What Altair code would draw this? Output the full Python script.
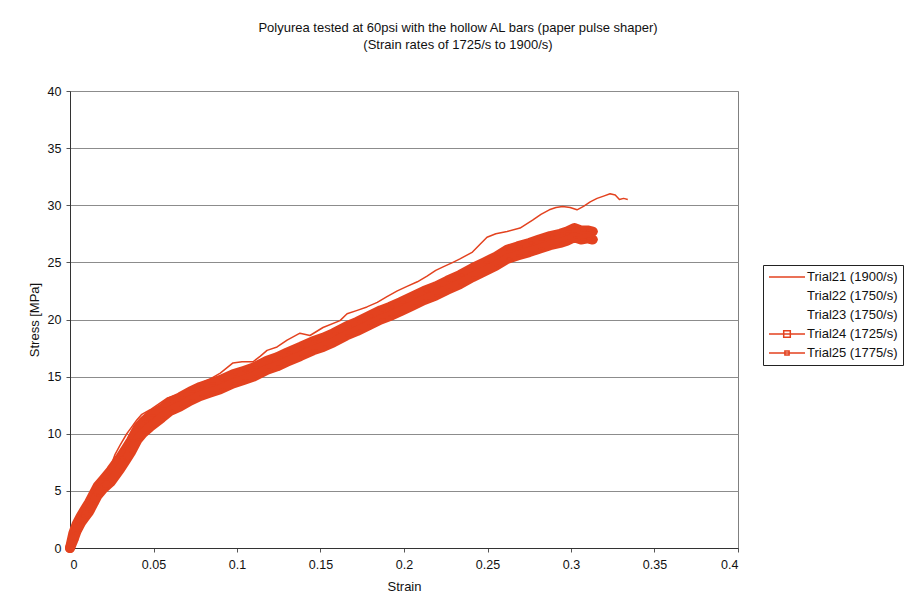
import altair as alt
import pandas as pd

FONT = "Liberation Sans"

trial_names = ["Trial21 (1900/s)", "Trial22 (1750/s)", "Trial23 (1750/s)",
               "Trial24 (1725/s)", "Trial25 (1775/s)"]
# Trials 22 and 23 are listed in the key but carry no visible trace
trial_colors = ["#E3421F", "#FFFFFF", "#FFFFFF", "#E3421F", "#E3421F"]
# key symbols: a short stroke, plus a square marker for the marker series
trial_shapes = ["M-1,0H5", "M-1,0H5", "M-1,0H5",
                "M-1,0H5M1.45,-0.55H2.55V0.55H1.45Z",
                "M-1,0H5M1.65,-0.35H2.35V0.35H1.65Z"]

# Trial21: thin trace
t21_strain = [0, 0.001, 0.003, 0.006, 0.009, 0.012, 0.015, 0.018, 0.021, 0.024,
              0.027, 0.030, 0.034, 0.037, 0.040, 0.043, 0.048, 0.053, 0.058, 0.064,
              0.070, 0.078, 0.084, 0.090, 0.0976, 0.103, 0.1096, 0.114, 0.118, 0.124,
              0.130, 0.1377, 0.1437, 0.1515, 0.1617, 0.1659, 0.172, 0.1778, 0.184, 0.1898,
              0.196, 0.2018, 0.208, 0.2138, 0.219, 0.2234, 0.2293, 0.2335, 0.241, 0.2457,
              0.2497, 0.255, 0.2617, 0.2695, 0.277, 0.282, 0.287, 0.291, 0.295, 0.2995,
              0.3036, 0.3075, 0.3115, 0.3156, 0.3195, 0.3234, 0.3265, 0.329, 0.3315, 0.334]
t21_stress = [0, 1.2, 2.0, 2.8, 3.6, 4.4, 5.1, 5.8, 6.4, 7.0,
              8.2, 9.0, 10.0, 10.6, 11.2, 11.7, 12.1, 12.6, 13.1, 13.4,
              13.8, 14.4, 14.8, 15.3, 16.2, 16.3, 16.3, 16.8, 17.3, 17.6,
              18.2, 18.8, 18.6, 19.3, 19.9, 20.5, 20.8, 21.1, 21.5, 22.0,
              22.5, 22.9, 23.3, 23.8, 24.3, 24.6, 25.0, 25.3, 25.9, 26.6,
              27.2, 27.5, 27.7, 28.0, 28.7, 29.2, 29.6, 29.8, 29.9, 29.8,
              29.6, 29.9, 30.3, 30.6, 30.8, 31.0, 30.9, 30.5, 30.6, 30.5]

# Trials 24 and 25: dense marker traces that form the heavy band
band_strain = [0, 0.002, 0.004, 0.0065, 0.009, 0.0115, 0.014, 0.0165, 0.020, 0.0245,
               0.030, 0.0335, 0.0365, 0.0405, 0.044, 0.048, 0.055, 0.060, 0.066, 0.072,
               0.078, 0.084, 0.090, 0.0976, 0.104, 0.110, 0.118, 0.124, 0.130, 0.138,
               0.1455, 0.1515, 0.1577, 0.1655, 0.172, 0.179, 0.186, 0.1915, 0.1977, 0.205,
               0.212, 0.219, 0.226, 0.2335, 0.241, 0.248, 0.255, 0.2617, 0.268, 0.275,
               0.281, 0.2875, 0.2935, 0.2976, 0.302, 0.306, 0.310, 0.313]
t24_stress = [0, 1.3, 2.1, 2.8, 3.4, 4.0, 4.7, 5.4, 6.0, 6.8,
              7.9, 8.7, 9.4, 10.5, 11.1, 11.6, 12.2, 12.8, 13.2, 13.7,
              14.1, 14.4, 14.7, 15.2, 15.5, 15.8, 16.4, 16.7, 17.1, 17.6,
              18.1, 18.4, 18.8, 19.4, 19.8, 20.3, 20.8, 21.1, 21.5, 22.0,
              22.5, 22.9, 23.4, 23.9, 24.5, 25.0, 25.5, 26.1, 26.4, 26.7,
              27.0, 27.3, 27.5, 27.7, 28.0, 27.8, 27.8, 27.7]
t25_stress = [0, 0.7, 1.5, 2.2, 2.7, 3.2, 3.9, 4.6, 5.2, 5.8,
              6.9, 7.7, 8.4, 9.5, 10.1, 10.6, 11.4, 12.0, 12.4, 12.9,
              13.3, 13.6, 13.9, 14.4, 14.7, 15.0, 15.6, 15.9, 16.3, 16.8,
              17.3, 17.6, 18.0, 18.6, 19.0, 19.5, 20.0, 20.3, 20.7, 21.2,
              21.7, 22.1, 22.6, 23.1, 23.7, 24.2, 24.7, 25.3, 25.6, 25.9,
              26.2, 26.5, 26.7, 26.9, 27.2, 27.0, 27.1, 27.0]

x_ticks = [0, 0.05, 0.1, 0.15, 0.2, 0.25, 0.3, 0.35, 0.4]
y_ticks = [0, 5, 10, 15, 20, 25, 30, 35, 40]


def frame(name, xs, ys):
    return pd.DataFrame({"trial": name, "strain": xs, "stress": ys,
                         "seq": list(range(len(xs)))})


thin_df = frame(trial_names[0], t21_strain, t21_stress)
band_df = pd.concat([frame(trial_names[3], band_strain, t24_stress),
                     frame(trial_names[4], band_strain, t25_stress)])

key = alt.Legend(
    title=None, orient="none", legendX=693, legendY=174,
    symbolSize=144, symbolStrokeWidth=1.5,
    labelOffset=25, labelFont=FONT, labelFontSize=13, labelColor="#111111",
    strokeColor="#222222", padding=5, rowPadding=5, fillColor="#FFFFFF",
)

color = alt.Color("trial:N", scale=alt.Scale(domain=trial_names, range=trial_colors),
                  legend=key)
shape = alt.Shape("trial:N", scale=alt.Scale(domain=trial_names, range=trial_shapes),
                  legend=key)

x = alt.X("strain:Q", title="Strain",
          scale=alt.Scale(domain=[0, 0.4], nice=False, zero=False),
          axis=alt.Axis(values=x_ticks, format="~g", grid=False, tickSize=4,
                        labelPadding=6, titlePadding=10))
y = alt.Y("stress:Q", title="Stress [MPa]",
          scale=alt.Scale(domain=[0, 40], nice=False),
          axis=alt.Axis(values=y_ticks, grid=True, tickSize=4, labelPadding=5,
                        titlePadding=6))

thin = alt.Chart(thin_df).mark_line(strokeWidth=1.5, strokeJoin="round").encode(
    x=x, y=y, color=color, order="seq:Q")
band = alt.Chart(band_df).mark_line(strokeWidth=10, strokeJoin="round", strokeCap="round").encode(
    x=x, y=y, color=color, order="seq:Q")
markers = alt.Chart(band_df).mark_point(filled=False, opacity=1, strokeWidth=1.5, size=4).encode(
    x=x, y=y, color=color, shape=shape)

chart = alt.layer(thin, band, markers).properties(
    width=668, height=457,
    autosize=alt.AutoSizeParams(type="none"),
    padding={"left": 70, "top": 91, "right": 167, "bottom": 61},
    background="#FFFFFF",
    title=alt.TitleParams(
        ["Polyurea tested at 60psi with the hollow AL bars (paper pulse shaper)",
         "(Strain rates of 1725/s to 1900/s)"],
        font=FONT, fontSize=13, fontWeight="normal", color="#111111",
        lineHeight=17, anchor="middle", dx=54, offset=33,
    ),
).configure_view(
    stroke="#808080", strokeWidth=1
).configure_axis(
    labelFont=FONT, labelFontSize=12.5, labelColor="#111111",
    titleFont=FONT, titleFontSize=13, titleFontWeight="normal", titleColor="#111111",
    domainColor="#333333", tickColor="#555555", gridColor="#8C8C8C", gridWidth=1,
)

chart.save("out.html", embed_options={"renderer": "svg", "actions": False})
